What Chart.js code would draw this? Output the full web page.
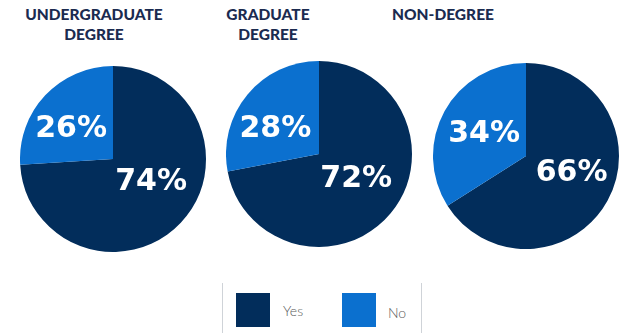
<!DOCTYPE html>
<html>
<head>
<meta charset="utf-8">
<script src="https://cdn.jsdelivr.net/npm/chart.js@4.4.0/dist/chart.umd.min.js"></script>
<style>
  body { margin: 0; background: #fff; width: 623px; height: 333px; overflow: hidden; position: relative; font-family: Lato, sans-serif; }
  .title { position: absolute; top: 4px; width: 200px; text-align: center; color: #1b2b50; font-weight: 900; font-size: 15.5px; line-height: 20px; }
  .pie { position: absolute; width: 186px; height: 186px; }
  .legend { position: absolute; left: 222px; top: 283px; width: 198px; height: 50px; border-left: 1px solid #cfd3d8; border-right: 1px solid #cfd3d8; }
  .sw { position: absolute; top: 10px; width: 34px; height: 34px; }
  .lbl { position: absolute; color: #5a5a5a; font-size: 14px; font-weight: 300; }
</style>
</head>
<body>
<div class="title" style="left:-6px">UNDERGRADUATE<br>DEGREE</div>
<div class="title" style="left:168px">GRADUATE<br>DEGREE</div>
<div class="title" style="left:343px">NON-DEGREE</div>

<canvas id="pie0" class="pie" style="left:20px;top:66px"></canvas>
<canvas id="pie1" class="pie" style="left:226px;top:61px"></canvas>
<canvas id="pie2" class="pie" style="left:433px;top:63px"></canvas>

<div class="legend">
  <div class="sw" style="left:13px;background:#022d5b"></div>
  <div class="lbl" style="left:60px;top:19px">Yes</div>
  <div class="sw" style="left:119px;background:#0b70cf"></div>
  <div class="lbl" style="left:165px;top:21px">No</div>
</div>

<script>
const categories = ['Yes', 'No'];
const groups = ['UNDERGRADUATE DEGREE', 'GRADUATE DEGREE', 'NON-DEGREE'];
const yesValues = [74, 72, 66];
const noValues = [26, 28, 34];
const colors = ['#022d5b', '#0b70cf'];

// where the percentage text sits in each pie, as fractions of the radius
const labelSpots = [
    [[0.41, 0.24], [-0.45, -0.33]],
    [[0.40, 0.26], [-0.47, -0.28]],
    [[0.49, 0.17], [-0.45, -0.24]]
];

const pctLabels = {
    id: 'pctLabels',
    afterDatasetsDraw(chart, args, opts) {
        const ctx = chart.ctx;
        const meta = chart.getDatasetMeta(0);
        ctx.save();
        ctx.fillStyle = '#fff';
        ctx.font = 'bold 30px "DejaVu Sans"';
        ctx.textAlign = 'center';
        ctx.textBaseline = 'middle';
        meta.data.forEach((arc, i) => {
            const r = arc.outerRadius;
            const spot = opts.spots[i];
            const v = chart.data.datasets[0].data[i];
            ctx.fillText(v + '%', arc.x + spot[0] * r, arc.y + spot[1] * r + 1);
        });
        ctx.restore();
    }
};

groups.forEach((g, k) => {
    new Chart(document.getElementById('pie' + k), {
        type: 'pie',
        data: {
            labels: categories,
            datasets: [{
                data: [yesValues[k], noValues[k]],
                backgroundColor: colors,
                borderWidth: 0
            }]
        },
        options: {
            responsive: false,
            animation: false,
            layout: { padding: 0 },
            plugins: {
                legend: { display: false },
                tooltip: { enabled: false },
                pctLabels: { spots: labelSpots[k] }
            }
        },
        plugins: [pctLabels]
    });
});
</script>
</body>
</html>
